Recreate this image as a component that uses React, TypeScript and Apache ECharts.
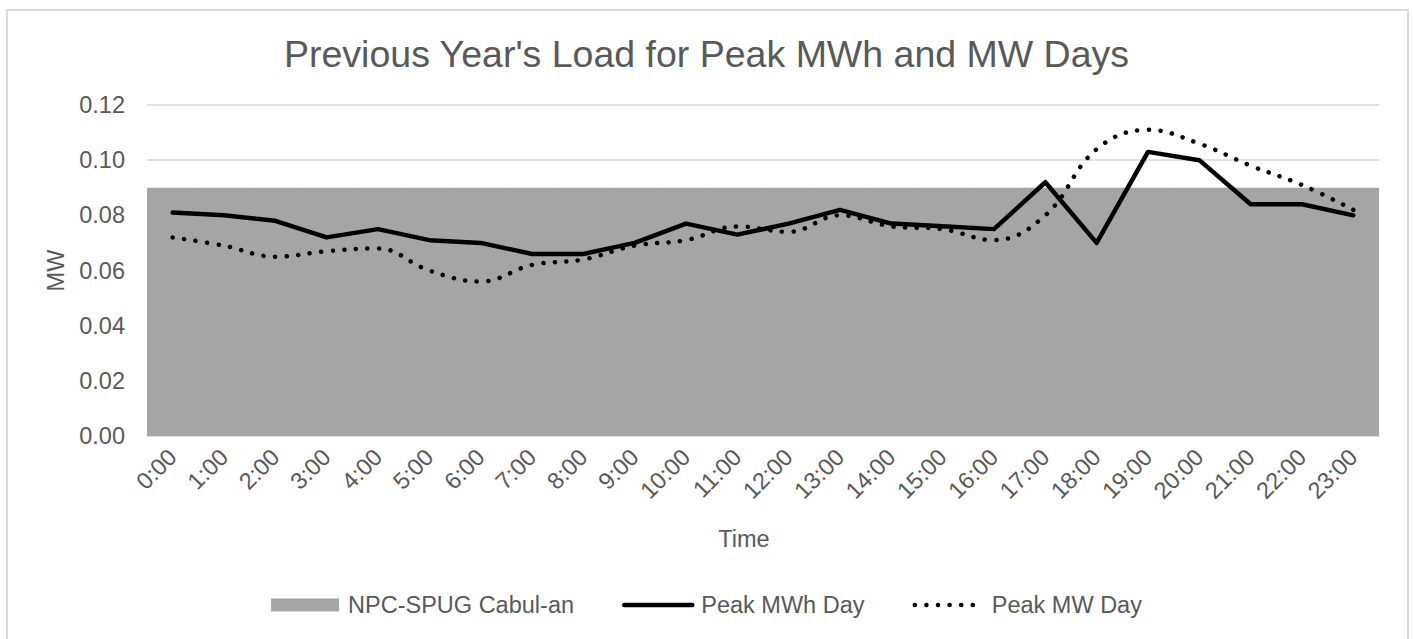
import React, { useEffect, useRef } from "react";
import * as echarts from "echarts";

const categories = ["0:00","1:00","2:00","3:00","4:00","5:00","6:00","7:00","8:00","9:00","10:00","11:00","12:00","13:00","14:00","15:00","16:00","17:00","18:00","19:00","20:00","21:00","22:00","23:00"];
const capacity = [0.09,0.09,0.09,0.09,0.09,0.09,0.09,0.09,0.09,0.09,0.09,0.09,0.09,0.09,0.09,0.09,0.09,0.09,0.09,0.09,0.09,0.09,0.09,0.09];
const peakMWhDay = [0.081,0.080,0.078,0.072,0.075,0.071,0.070,0.066,0.066,0.070,0.077,0.073,0.077,0.082,0.077,0.076,0.075,0.092,0.070,0.103,0.100,0.084,0.084,0.080];
const peakMWDay = [0.072,0.069,0.065,0.067,0.068,0.060,0.056,0.062,0.064,0.069,0.071,0.076,0.074,0.080,0.076,0.075,0.071,0.080,0.104,0.111,0.106,0.098,0.091,0.082];
const yTicks = { min: 0, max: 0.12, interval: 0.02 };

const TEXT = "#595959";
const FONT = "Liberation Sans, Arial, sans-serif";

export default function App() {
  const ref = useRef<HTMLDivElement>(null);
  useEffect(() => {
    document.body.style.margin = "0";
    const chart = echarts.init(ref.current!, null, { renderer: "svg" });
    chart.setOption({
      animation: false,
      backgroundColor: "#ffffff",
      textStyle: { fontFamily: FONT },
      title: {
        text: "Previous Year's Load for Peak MWh and MW Days",
        left: "center",
        top: 30,
        textStyle: { color: TEXT, fontSize: 37.5, fontWeight: "normal", fontFamily: FONT },
      },
      graphic: [
        {
          type: "rect",
          shape: { x: 7, y: 10, width: 1401, height: 700 },
          style: { fill: "none", stroke: "#d9d9d9", lineWidth: 2 },
          silent: true,
        },
      ],
      legend: {
        bottom: 17,
        left: "center",
        itemWidth: 68,
        itemHeight: 13,
        itemGap: 48,
        textStyle: { color: TEXT, fontSize: 23.5, fontFamily: FONT, padding: [0, 0, 0, 4] },
        data: [
          { name: "NPC-SPUG Cabul-an", icon: "rect" },
          {
            name: "Peak MWh Day",
            itemStyle: { opacity: 0 },
            lineStyle: { width: 4.5, color: "#000000", cap: "round" },
          },
          {
            name: "Peak MW Day",
            itemStyle: { opacity: 0 },
            lineStyle: { width: 4.5, color: "#000000", type: [0.1, 11.5], cap: "round" },
          },
        ],
      },
      grid: { left: 147, right: 34, top: 105, bottom: 203, containLabel: false },
      xAxis: {
        type: "category",
        data: categories,
        boundaryGap: true,
        name: "Time",
        nameLocation: "middle",
        nameGap: 91,
        nameTextStyle: { color: TEXT, fontSize: 23.5, fontFamily: FONT, padding: [0, 38, 0, 0] },
        axisLine: { show: true, lineStyle: { color: "#d9d9d9", width: 1.5 } },
        axisTick: { show: false },
        axisLabel: { color: TEXT, fontSize: 23.5, fontFamily: FONT, rotate: 45, margin: 17, interval: 0 },
        splitLine: { show: false },
      },
      yAxis: {
        type: "value",
        min: yTicks.min,
        max: yTicks.max,
        interval: yTicks.interval,
        name: "MW",
        nameLocation: "middle",
        nameGap: 79,
        nameRotate: 90,
        nameTextStyle: { color: TEXT, fontSize: 23.5, fontFamily: FONT },
        axisLine: { show: false },
        axisTick: { show: false },
        axisLabel: { color: TEXT, fontSize: 23.5, fontFamily: FONT, margin: 22, formatter: (v: number) => v.toFixed(2) },
        splitLine: { show: true, lineStyle: { color: "#d9d9d9", width: 1.5 } },
      },
      series: [
        {
          name: "NPC-SPUG Cabul-an",
          type: "bar",
          data: capacity,
          barWidth: 53,
          barCategoryGap: "0%",
          clip: true,
          itemStyle: { color: "#a5a5a5", borderWidth: 0 },
          z: 1,
        },
        {
          name: "Peak MWh Day",
          type: "line",
          data: peakMWhDay,
          symbol: "none",
          showSymbol: false,
          itemStyle: { color: "#000000" },
          lineStyle: { color: "#000000", width: 4.5, cap: "round", join: "round" },
          z: 3,
        },
        {
          name: "Peak MW Day",
          type: "line",
          data: peakMWDay,
          smooth: 0.4,
          symbol: "none",
          showSymbol: false,
          itemStyle: { color: "#000000" },
          lineStyle: { color: "#000000", width: 4.5, type: [0.1, 11.5], cap: "round" },
          z: 2,
        },
      ],
    });
    return () => chart.dispose();
  }, []);
  return <div ref={ref} style={{ width: 1413, height: 639 }} />;
}
